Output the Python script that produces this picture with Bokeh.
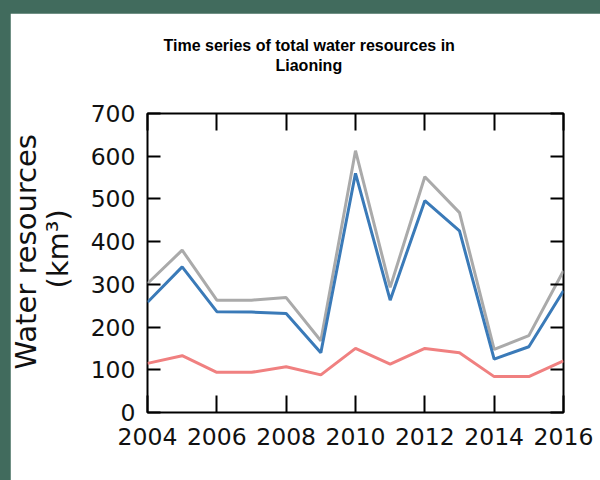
from bokeh.plotting import figure
from bokeh.models import Range1d, LinearAxis, FixedTicker, CustomJSTickFormatter, Title
from bokeh.layouts import column
from bokeh.embed import file_html
from bokeh.resources import INLINE

years = [2004, 2005, 2006, 2007, 2008, 2009, 2010, 2011, 2012, 2013, 2014, 2015, 2016]
total_water = [302, 380, 263, 263, 269, 168, 613, 293, 552, 468, 148, 180, 332]
surface_water = [258, 341, 236, 235, 232, 140, 560, 263, 496, 425, 125, 154, 285]
ground_water = [115, 133, 94, 94, 107, 88, 150, 113, 150, 140, 84, 84, 121]

x_ticks = [2004, 2006, 2008, 2010, 2012, 2014, 2016]
y_ticks = [0, 100, 200, 300, 400, 500, 600, 700]

title_lines = ["Time series of total water resources in", "Liaoning"]
ylabel_lines = ["Water resources", "(km\u00b3)"]

W, H = 590, 467
p = figure(width=W, height=H, output_backend="svg", toolbar_location=None, title=None,
           x_range=Range1d(2004, 2016), y_range=Range1d(0, 700),
           min_border_left=137, min_border_right=37, min_border_top=100, min_border_bottom=68)
p.margin = (13, 0, 0, 10)
p.background_fill_color = "white"
p.border_fill_color = "white"
p.outline_line_color = "black"
p.outline_line_width = 2
p.outline_line_alpha = 1
p.xgrid.visible = False
p.ygrid.visible = False

tick_font = "DejaVu Sans"
tick_size = "23.5px"

def style_axis(ax, ticks, tick_len, show_labels, standoff):
    ax.ticker = FixedTicker(ticks=ticks)
    ax.major_tick_in = tick_len
    ax.major_tick_out = 0
    ax.minor_tick_line_color = None
    ax.axis_line_color = None
    ax.major_tick_line_color = "black"
    ax.major_tick_line_width = 2
    ax.major_label_text_font = tick_font
    ax.major_label_text_font_size = tick_size
    ax.major_label_text_color = "#111111"
    ax.major_label_standoff = standoff
    if not show_labels:
        ax.formatter = CustomJSTickFormatter(code="return ''")

style_axis(p.xaxis[0], x_ticks, 17, True, 15)
style_axis(p.yaxis[0], y_ticks, 13, True, 12)

top_ax = LinearAxis()
style_axis(top_ax, x_ticks, 17, False, 0)
p.add_layout(top_ax, "above")
right_ax = LinearAxis()
style_axis(right_ax, y_ticks, 13, False, 0)
p.add_layout(right_ax, "right")

# blank spacer between the frame and the title block
p.add_layout(Title(text=" ", standoff=27, text_font_size="10px", text_color="white"), "above")
# title: two lines, stacked outward from the frame
p.add_layout(Title(text=title_lines[1], align="left", offset=128, standoff=0,
                   text_font="Liberation Sans", text_font_style="bold", text_font_size="16px",
                   text_color="black"), "above")
p.add_layout(Title(text=title_lines[0], align="left", offset=16, standoff=2,
                   text_font="Liberation Sans", text_font_style="bold", text_font_size="16px",
                   text_color="black"), "above")

# y-axis label as two vertical titles on the left
p.add_layout(Title(text=ylabel_lines[1], align="left", offset=124, standoff=26,
                   text_font="DejaVu Sans", text_font_style="normal", text_font_size="29px",
                   text_color="#111111"), "left")
p.add_layout(Title(text=ylabel_lines[0], align="left", offset=43, standoff=-34,
                   text_font="DejaVu Sans", text_font_style="normal", text_font_size="29px",
                   text_color="#111111"), "left")

p.line(years, total_water, line_color="#aaaaaa", line_width=3)
p.line(years, surface_water, line_color="#3a7ab8", line_width=3)
p.line(years, ground_water, line_color="#f08080", line_width=3)

layout = column(p, styles={"background-color": "#416b5d"})

open("out.html", "w").write(file_html(layout, INLINE))
